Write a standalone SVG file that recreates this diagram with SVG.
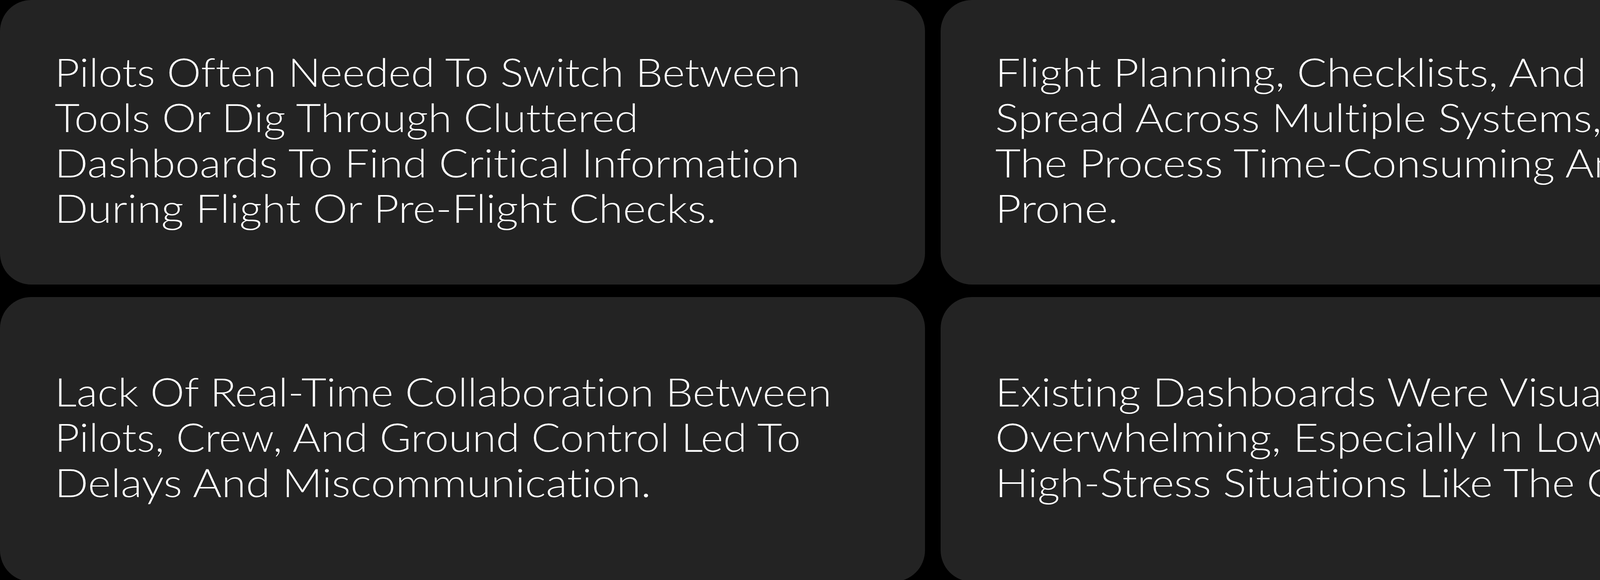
<svg xmlns="http://www.w3.org/2000/svg" width="4776" height="1484" viewBox="0 0 4776 1484">
<style>
.card{fill:#232323}
.t{font-family:Lato,"Noto Sans","Liberation Sans",sans-serif;font-size:100px;font-weight:300;fill:#ffffff;font-variant-ligatures:none;font-feature-settings:"liga" 0,"clig" 0,"dlig" 0}
</style>
<rect x="0" y="0" width="4776" height="1484" fill="#000000"/>
<g id="card-tools">
<rect class="card" x="0" y="0" width="2368" height="728" rx="80" ry="80"/>
<text class="t" x="140" y="222" textLength="1910" lengthAdjust="spacingAndGlyphs">Pilots Often Needed To Switch Between</text>
<text class="t" x="140" y="338" textLength="1494" lengthAdjust="spacingAndGlyphs">Tools Or Dig Through Cluttered</text>
<text class="t" x="140" y="454" textLength="1907" lengthAdjust="spacingAndGlyphs">Dashboards To Find Critical Information</text>
<text class="t" x="140" y="570" textLength="1694" lengthAdjust="spacingAndGlyphs">During Flight Or Pre-Flight Checks.</text>
</g>
<g id="card-planning">
<rect class="card" x="2408" y="0" width="2368" height="728" rx="80" ry="80"/>
<text class="t" x="2548" y="222" textLength="2057" lengthAdjust="spacingAndGlyphs">Flight Planning, Checklists, And Logs Were</text>
<text class="t" x="2548" y="338" textLength="1934" lengthAdjust="spacingAndGlyphs">Spread Across Multiple Systems, Making</text>
<text class="t" x="2548" y="454" textLength="1965" lengthAdjust="spacingAndGlyphs">The Process Time-Consuming And Error-</text>
<text class="t" x="2548" y="570" textLength="315" lengthAdjust="spacingAndGlyphs">Prone.</text>
</g>
<g id="card-collaboration">
<rect class="card" x="0" y="760" width="2368" height="728" rx="80" ry="80"/>
<text class="t" x="140" y="1040" textLength="1989" lengthAdjust="spacingAndGlyphs">Lack Of Real-Time Collaboration Between</text>
<text class="t" x="140" y="1156" textLength="1910" lengthAdjust="spacingAndGlyphs">Pilots, Crew, And Ground Control Led To</text>
<text class="t" x="140" y="1272" textLength="1527" lengthAdjust="spacingAndGlyphs">Delays And Miscommunication.</text>
</g>
<g id="card-dashboards">
<rect class="card" x="2408" y="760" width="2368" height="728" rx="80" ry="80"/>
<text class="t" x="2548" y="1040" textLength="1658" lengthAdjust="spacingAndGlyphs">Existing Dashboards Were Visually</text>
<text class="t" x="2548" y="1156" textLength="2018" lengthAdjust="spacingAndGlyphs">Overwhelming, Especially In Low-Light Or</text>
<text class="t" x="2548" y="1272" textLength="1907" lengthAdjust="spacingAndGlyphs">High-Stress Situations Like The Cockpit.</text>
</g>
<g id="connectors"/>
</svg>
